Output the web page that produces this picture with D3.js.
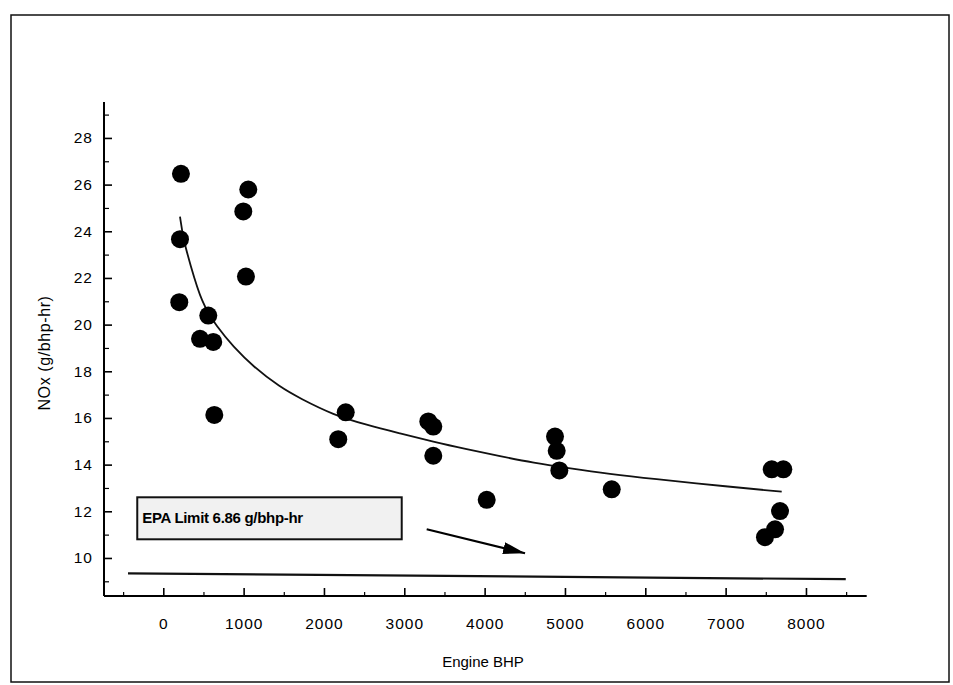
<!DOCTYPE html>
<html>
<head>
<meta charset="utf-8">
<script src="https://cdn.jsdelivr.net/npm/d3@7"></script>
<style>
  html, body { margin: 0; padding: 0; background: #fff; }
  svg { display: block; }
  text { font-family: "Liberation Sans", Arial, sans-serif; fill: #000; }
</style>
</head>
<body>
<svg id="chart" width="953" height="685"></svg>
<script>
// ---- data ----
const engineBHP = [220, 208, 199, 560, 457, 622, 635, 996, 1058, 1029,
                   2178, 2271, 3299, 3361, 3361, 4026, 4876, 4897, 4930, 5582,
                   7490, 7615, 7677, 7574, 7718];
const noxValues = [26.46, 23.66, 20.96, 20.39, 19.39, 19.26, 16.13, 24.85, 25.79, 22.06,
                   15.09, 16.24, 15.85, 15.63, 14.38, 12.49, 15.20, 14.59, 13.75, 12.94,
                   10.89, 11.23, 12.01, 13.80, 13.80];
// trend line
const trendBHP = [208, 249, 332, 478, 665, 871, 1120, 1453, 1702, 2116, 2532, 2947,
                  3361, 3777, 4192, 4606, 5062, 5560, 6058, 7054, 7698];
const trendNOx = [24.63, 23.66, 22.63, 20.92, 19.91, 19.06, 18.20, 17.32, 16.84, 16.13, 15.70, 15.34,
                  14.98, 14.66, 14.36, 14.08, 13.84, 13.60, 13.40, 13.05, 12.84];
const xTickValues = [0, 1000, 2000, 3000, 4000, 5000, 6000, 7000, 8000];
const xMinorTicks = [-500, 500, 1500, 2500, 3500, 4500, 5500, 6500, 7500, 8500];
const yTickValues = [10, 12, 14, 16, 18, 20, 22, 24, 26, 28];
const yMinorTicks = [9, 11, 13, 15, 17, 19, 21, 23, 25, 27, 29];
const epaLabel = "EPA Limit 6.86 g/bhp-hr";
const epaLineBHP = [-439, 8495];
const epaLineNOx = [9.34, 9.09];
const xTitle = "Engine BHP";
const yTitle = "NOx (g/bhp-hr)";

// ---- layout ----
const svg = d3.select("#chart");
const x = d3.scaleLinear().domain([-738, 8756]).range([104, 866.7]);
const y = d3.scaleLinear().domain([8.37, 29.54]).range([596, 102]);

// outer frame
svg.append("rect").attr("x", 11).attr("y", 15).attr("width", 938).attr("height", 667)
  .attr("fill", "none").attr("stroke", "#111").attr("stroke-width", 1.5);

// axes (ticks point inward)
const xAxis = d3.axisBottom(x).tickValues(xTickValues).tickSize(-8).tickPadding(22).tickFormat(d3.format("d"));
const gx = svg.append("g").attr("transform", `translate(0,${y.range()[0]})`).call(xAxis);
gx.select(".domain").attr("d", `M${x.range()[0]},0H${x.range()[1]}`).attr("stroke-width", 2);
gx.selectAll(".tick line").attr("stroke-width", 1.6);
gx.selectAll(".tick text").attr("font-size", 15.5).attr("letter-spacing", 1)
  .style("font-family", "'Liberation Sans', Arial, sans-serif");
const gxm = svg.append("g").attr("transform", `translate(0,${y.range()[0]})`)
  .call(d3.axisBottom(x).tickValues(xMinorTicks).tickSize(-4).tickFormat(""));
gxm.select(".domain").remove();
gxm.selectAll(".tick line").attr("stroke-width", 1.2);

const yAxis = d3.axisLeft(y).tickValues(yTickValues).tickSize(-8).tickPadding(11).tickFormat(d3.format("d"));
const gy = svg.append("g").attr("transform", `translate(${x.range()[0]},0)`).call(yAxis);
gy.select(".domain").attr("d", `M0,${y.range()[0]}V${y.range()[1]}`).attr("stroke-width", 2);
gy.selectAll(".tick line").attr("stroke-width", 1.6);
gy.selectAll(".tick text").attr("font-size", 15.5).attr("letter-spacing", 1)
  .style("font-family", "'Liberation Sans', Arial, sans-serif");
const gym = svg.append("g").attr("transform", `translate(${x.range()[0]},0)`)
  .call(d3.axisLeft(y).tickValues(yMinorTicks).tickSize(-5).tickFormat(""));
gym.select(".domain").remove();
gym.selectAll(".tick line").attr("stroke-width", 1.2);

// axis titles
svg.append("text").attr("x", 483).attr("y", 667).attr("text-anchor", "middle")
  .attr("font-size", 15).text(xTitle);
svg.append("text").attr("transform", "translate(50,353) rotate(-90)").attr("text-anchor", "middle")
  .attr("font-size", 16).attr("letter-spacing", 0.6).text(yTitle);

// EPA limit line
svg.append("line")
  .attr("x1", x(epaLineBHP[0])).attr("y1", y(epaLineNOx[0]))
  .attr("x2", x(epaLineBHP[1])).attr("y2", y(epaLineNOx[1]))
  .attr("stroke", "#111").attr("stroke-width", 2.2);

// trend curve
const trendData = trendBHP.map((d, i) => [d, trendNOx[i]]);
svg.append("path").datum(trendData)
  .attr("fill", "none").attr("stroke", "#111").attr("stroke-width", 1.8)
  .attr("d", d3.line().x(d => x(d[0])).y(d => y(d[1])).curve(d3.curveBasis));

// points
const pts = engineBHP.map((d, i) => [d, noxValues[i]]);
svg.append("g").selectAll("circle").data(pts).join("circle")
  .attr("cx", d => x(d[0])).attr("cy", d => y(d[1])).attr("r", 9).attr("fill", "#000");

// legend / annotation box
const boxX0 = x(-324), boxX1 = x(2968), boxY0 = y(12.60), boxY1 = y(10.80);
svg.append("rect").attr("x", boxX0).attr("y", boxY0).attr("width", boxX1 - boxX0).attr("height", boxY1 - boxY0)
  .attr("fill", "#f1f1f1").attr("stroke", "#111").attr("stroke-width", 2);
svg.append("text").attr("x", boxX0 + 5).attr("y", (boxY0 + boxY1) / 2 + 5)
  .attr("font-size", 15).attr("font-weight", "bold").attr("letter-spacing", -0.3).text(epaLabel);

// arrow
const defs = svg.append("defs");
defs.append("marker").attr("id", "ah").attr("viewBox", "0 0 22 12").attr("refX", 22).attr("refY", 6)
  .attr("markerWidth", 22).attr("markerHeight", 12).attr("markerUnits", "userSpaceOnUse").attr("orient", "auto")
  .append("path").attr("d", "M0,0L22,6L0,12Z").attr("fill", "#000");
svg.append("line")
  .attr("x1", x(3279)).attr("y1", y(11.23)).attr("x2", x(4503)).attr("y2", y(10.20))
  .attr("stroke", "#000").attr("stroke-width", 2.2).attr("marker-end", "url(#ah)");
</script>
</body>
</html>
